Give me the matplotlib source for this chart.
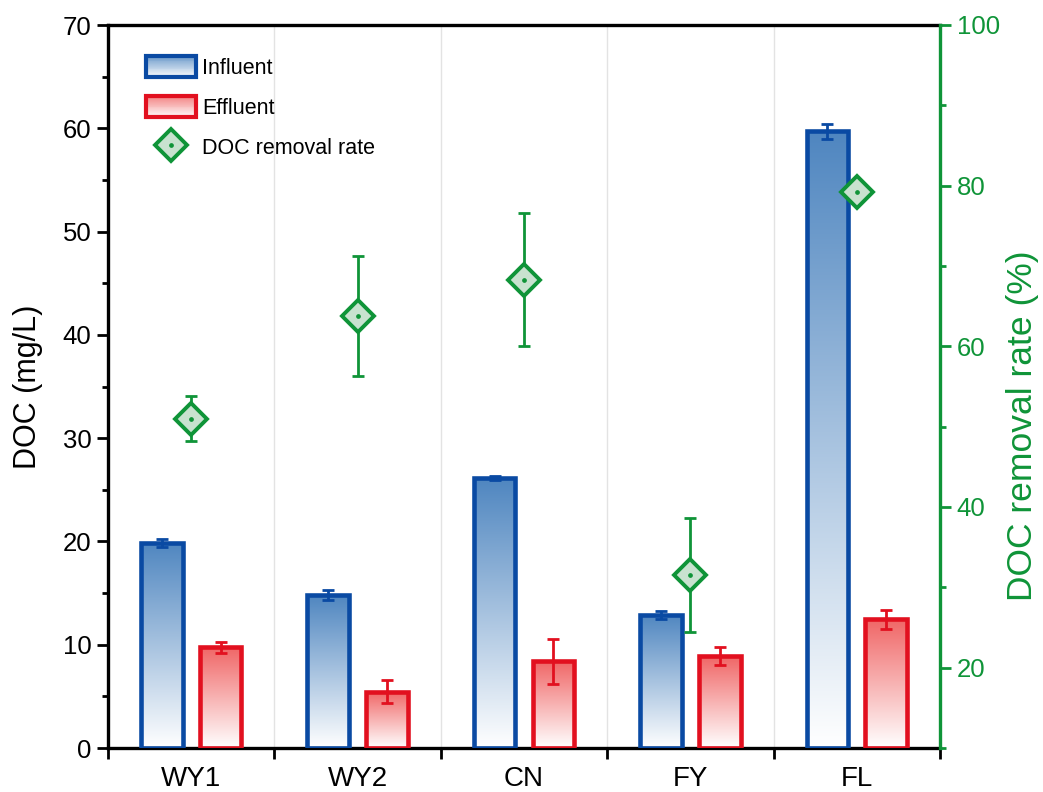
import numpy as np
import matplotlib
matplotlib.use("Agg")
import matplotlib.pyplot as plt
from matplotlib.patches import Rectangle
from matplotlib.lines import Line2D
from matplotlib.legend_handler import HandlerBase, HandlerTuple
from matplotlib.colors import LinearSegmentedColormap, to_rgb
from matplotlib.ticker import MultipleLocator

plt.rcParams['font.family'] = ['Liberation Sans', 'DejaVu Sans']

# ---------------- data ----------------
categories = ['WY1', 'WY2', 'CN', 'FY', 'FL']
influent = [19.85, 14.8, 26.1, 12.9, 59.7]
influent_err = [0.35, 0.45, 0.2, 0.4, 0.7]
effluent = [9.75, 5.45, 8.4, 8.9, 12.45]
effluent_err = [0.55, 1.1, 2.2, 0.9, 0.9]
removal = [51.0, 63.8, 68.3, 31.5, 79.2]
removal_err = [2.8, 7.5, 8.3, 7.1, 0.8]

BLUE_EDGE = '#0a4aa3'
BLUE_TOP = '#4f86c0'
RED_EDGE = '#e2101f'
RED_TOP = '#f06666'
GREEN = '#0f9438'
GREEN_FILL = '#c8e2cf'

fig = plt.figure(figsize=(10.43, 7.92), dpi=100)
ax = fig.add_axes([108/1043, 1-748/792, (940-108)/1043, (748-25)/792])
ax2 = ax.twinx()

x = np.arange(len(categories))
width = 0.25
off = 0.177


def grad_bars(xpos, vals, errs, edge, top):
    cmap = LinearSegmentedColormap.from_list('g', ['#ffffff', top])
    bars = ax.bar(xpos, vals, width=width, facecolor='none', edgecolor=edge,
                  linewidth=3.3, zorder=3)
    grad = np.linspace(1, 0, 256).reshape(-1, 1)
    for b in bars:
        x0, y0 = b.get_x(), b.get_y()
        w, h = b.get_width(), b.get_height()
        im = ax.imshow(grad, extent=[x0, x0 + w, y0, y0 + h], aspect='auto',
                       cmap=cmap, vmin=0, vmax=1, zorder=2, origin='upper')
        im.set_clip_path(b)
    ax.errorbar(xpos, vals, yerr=errs, fmt='none', ecolor=edge, elinewidth=2,
                capsize=4.5, capthick=2, zorder=4)


grad_bars(x - off, influent, influent_err, BLUE_EDGE, BLUE_TOP)
grad_bars(x + off, effluent, effluent_err, RED_EDGE, RED_TOP)

ax.set_xlim(-0.5, len(categories) - 0.5)
ax.set_ylim(0, 70)
ax.set_aspect('auto')

# right axis: removal rate
ax2.errorbar(x, removal, yerr=removal_err, fmt='none', ecolor=GREEN,
             elinewidth=2, capsize=4.5, capthick=2, zorder=3)
ax2.plot(x, removal, linestyle='none', marker='D', markersize=16,
         markerfacecolor=GREEN_FILL, markeredgecolor=GREEN, markeredgewidth=2.8,
         zorder=5)
ax2.plot(x, removal, linestyle='none', marker='o', markersize=2.4,
         color=GREEN, zorder=6)
ax2.set_ylim(10, 100)

# ---------------- axes styling ----------------
for sp in ['left', 'bottom', 'top']:
    ax.spines[sp].set_linewidth(2.4)
    ax.spines[sp].set_color('black')
ax.spines['right'].set_visible(False)
for sp in ['left', 'bottom', 'top']:
    ax2.spines[sp].set_visible(False)
ax2.spines['right'].set_color(GREEN)
ax2.spines['right'].set_linewidth(2.4)

ax.yaxis.set_major_locator(MultipleLocator(10))
ax.yaxis.set_minor_locator(MultipleLocator(5))
ax.tick_params(axis='y', which='major', direction='out', length=8, width=2,
               labelsize=18.5, pad=4)
ax.tick_params(axis='y', which='minor', direction='out', length=4.5, width=2)

ax.set_xticks(x)
ax.set_xticklabels(categories)
ax.set_xticks(np.arange(-0.5, len(categories)), minor=True)
ax.tick_params(axis='x', which='major', length=0, labelsize=20, pad=13)
ax.tick_params(axis='x', which='minor', direction='out', length=8, width=2)
ax.grid(which='minor', axis='x', color='#e3e3e3', linewidth=1.0)
ax.set_axisbelow(True)

ax2.yaxis.set_major_locator(MultipleLocator(20))
ax2.yaxis.set_minor_locator(MultipleLocator(10))
ax2.tick_params(axis='y', which='major', direction='out', length=8, width=2,
                colors=GREEN, labelsize=18.5, pad=4)
ax2.tick_params(axis='y', which='minor', direction='out', length=4.5, width=2,
                colors=GREEN)

ax.set_ylabel('DOC (mg/L)', fontsize=22)
ax.yaxis.set_label_coords((43.5 - 108) / 832, 0.5)
ax2.set_ylabel('DOC removal rate (%)', fontsize=25.5, color=GREEN)
ax2.yaxis.set_label_coords((1006 - 108) / 832, 1 - (426 - 25) / 723)


# ---------------- legend ----------------
class GradHandler(HandlerBase):
    def __init__(self, edge, top):
        super().__init__()
        self.edge = edge
        self.top = np.array(to_rgb(top))

    def create_artists(self, legend, orig_handle, xdescent, ydescent, width,
                       height, fontsize, trans):
        arts = []
        n = 24
        white = np.ones(3)
        for i in range(n):
            f = (i + 0.5) / n
            c = white * (1 - 0.85 * f) + self.top * (0.85 * f)
            r = Rectangle((-xdescent, -ydescent + height * i / n), width,
                          height / n + 0.3, facecolor=c, edgecolor='none',
                          transform=trans)
            arts.append(r)
        border = Rectangle((-xdescent, -ydescent), width, height,
                           facecolor='none', edgecolor=self.edge,
                           linewidth=3.0, transform=trans)
        arts.append(border)
        return arts


p_in = Rectangle((0, 0), 1, 1)
p_ef = Rectangle((0, 0), 1, 1)
dia = Line2D([], [], linestyle='none', marker='D', markersize=16,
             markerfacecolor=GREEN_FILL, markeredgecolor=GREEN,
             markeredgewidth=2.8)
dot = Line2D([], [], linestyle='none', marker='o', markersize=2.4, color=GREEN)

ax2.legend([p_in, p_ef, (dia, dot)], ['Influent', 'Effluent', 'DOC removal rate'],
           handler_map={p_in: GradHandler(BLUE_EDGE, BLUE_TOP),
                        p_ef: GradHandler(RED_EDGE, RED_TOP),
                        tuple: HandlerTuple(ndivide=1)},
           loc='upper left', bbox_to_anchor=(0.046, 0.957), frameon=False,
           fontsize=15.5, handlelength=2.3, handleheight=1.15,
           labelspacing=0.78, handletextpad=0.28, borderpad=0,
           borderaxespad=0)

fig.savefig('out.png', dpi=100)
